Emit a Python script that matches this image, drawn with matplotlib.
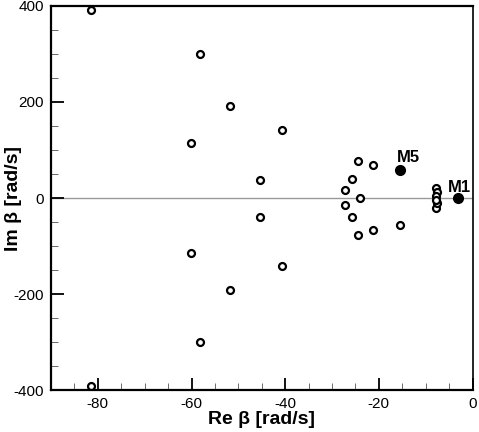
import matplotlib
matplotlib.use("Agg")
import matplotlib.pyplot as plt
from matplotlib.ticker import MultipleLocator

plt.rcParams['font.family'] = ['Liberation Sans', 'DejaVu Sans']
plt.rcParams['axes.unicode_minus'] = False

# Open-circle eigenvalues (Re, Im)
open_re = [-81.5, -81.5, -58.2, -58.2, -51.8, -51.8, -60.1, -60.1, -40.6, -40.6,
           -45.4, -45.4, -24.4, -24.4, -21.3, -21.3, -25.8, -25.8, -27.2, -27.2,
           -24.1, -15.5, -7.7, -7.7, -7.6, -7.6, -7.8, -7.8]
open_im = [392, -392, 299, -299, 192, -191, 114, -114, 142, -141,
           38.5, -38.5, 77, -76, 68, -67, 40, -39.5, 16, -14,
           0, -57, 21, -20, 12, -11, 4, -4]
# Highlighted modes
mode_names = ['M5', 'M1']
mode_re = [-15.5, -3.1]
mode_im = [57.6, 0.0]
label_offsets_px = [(-3, 5), (-10, 3)]

fig = plt.figure(figsize=(4.79, 4.32), dpi=100)
ax = fig.add_axes([0.1065, 0.0965, 0.88, 0.89])

ax.axhline(0, color='#999999', lw=1.0, zorder=1)
ax.plot(open_re, open_im, 'o', ms=5, mfc='white', mec='black', mew=1.6, ls='none', zorder=3)
ax.plot(mode_re, mode_im, 'o', ms=7, mfc='black', mec='black', ls='none', zorder=3)
for n, xr, yi, (dx, dy) in zip(mode_names, mode_re, mode_im, label_offsets_px):
    ax.annotate(n, (xr, yi), xytext=(dx * 0.72, dy * 0.72), textcoords='offset points',
                fontsize=12, fontweight='bold', ha='left', va='bottom')

ax.set_xlim(-90, 0)
ax.set_ylim(-400, 400)
ax.xaxis.set_major_locator(MultipleLocator(20))
ax.xaxis.set_minor_locator(MultipleLocator(5))
ax.yaxis.set_major_locator(MultipleLocator(200))
ax.yaxis.set_minor_locator(MultipleLocator(50))
ax.tick_params(which='major', direction='in', length=9, width=1.3, labelsize=11, pad=5)
ax.tick_params(which='minor', direction='in', length=5, width=0.6, color='#555555')
ax.tick_params(top=False, right=False, which='both')
for s in ax.spines.values():
    s.set_linewidth(1.6)
ax.spines['right'].set_linewidth(1.2)

ax.set_xlabel('Re β [rad/s]', fontsize=14, fontweight='bold')
ax.set_ylabel('Im β [rad/s]', fontsize=14, fontweight='bold')
ax.xaxis.set_label_coords(0.5, -0.055)
ax.yaxis.set_label_coords(-0.07, 0.5)

fig.savefig('out.png', dpi=100)
